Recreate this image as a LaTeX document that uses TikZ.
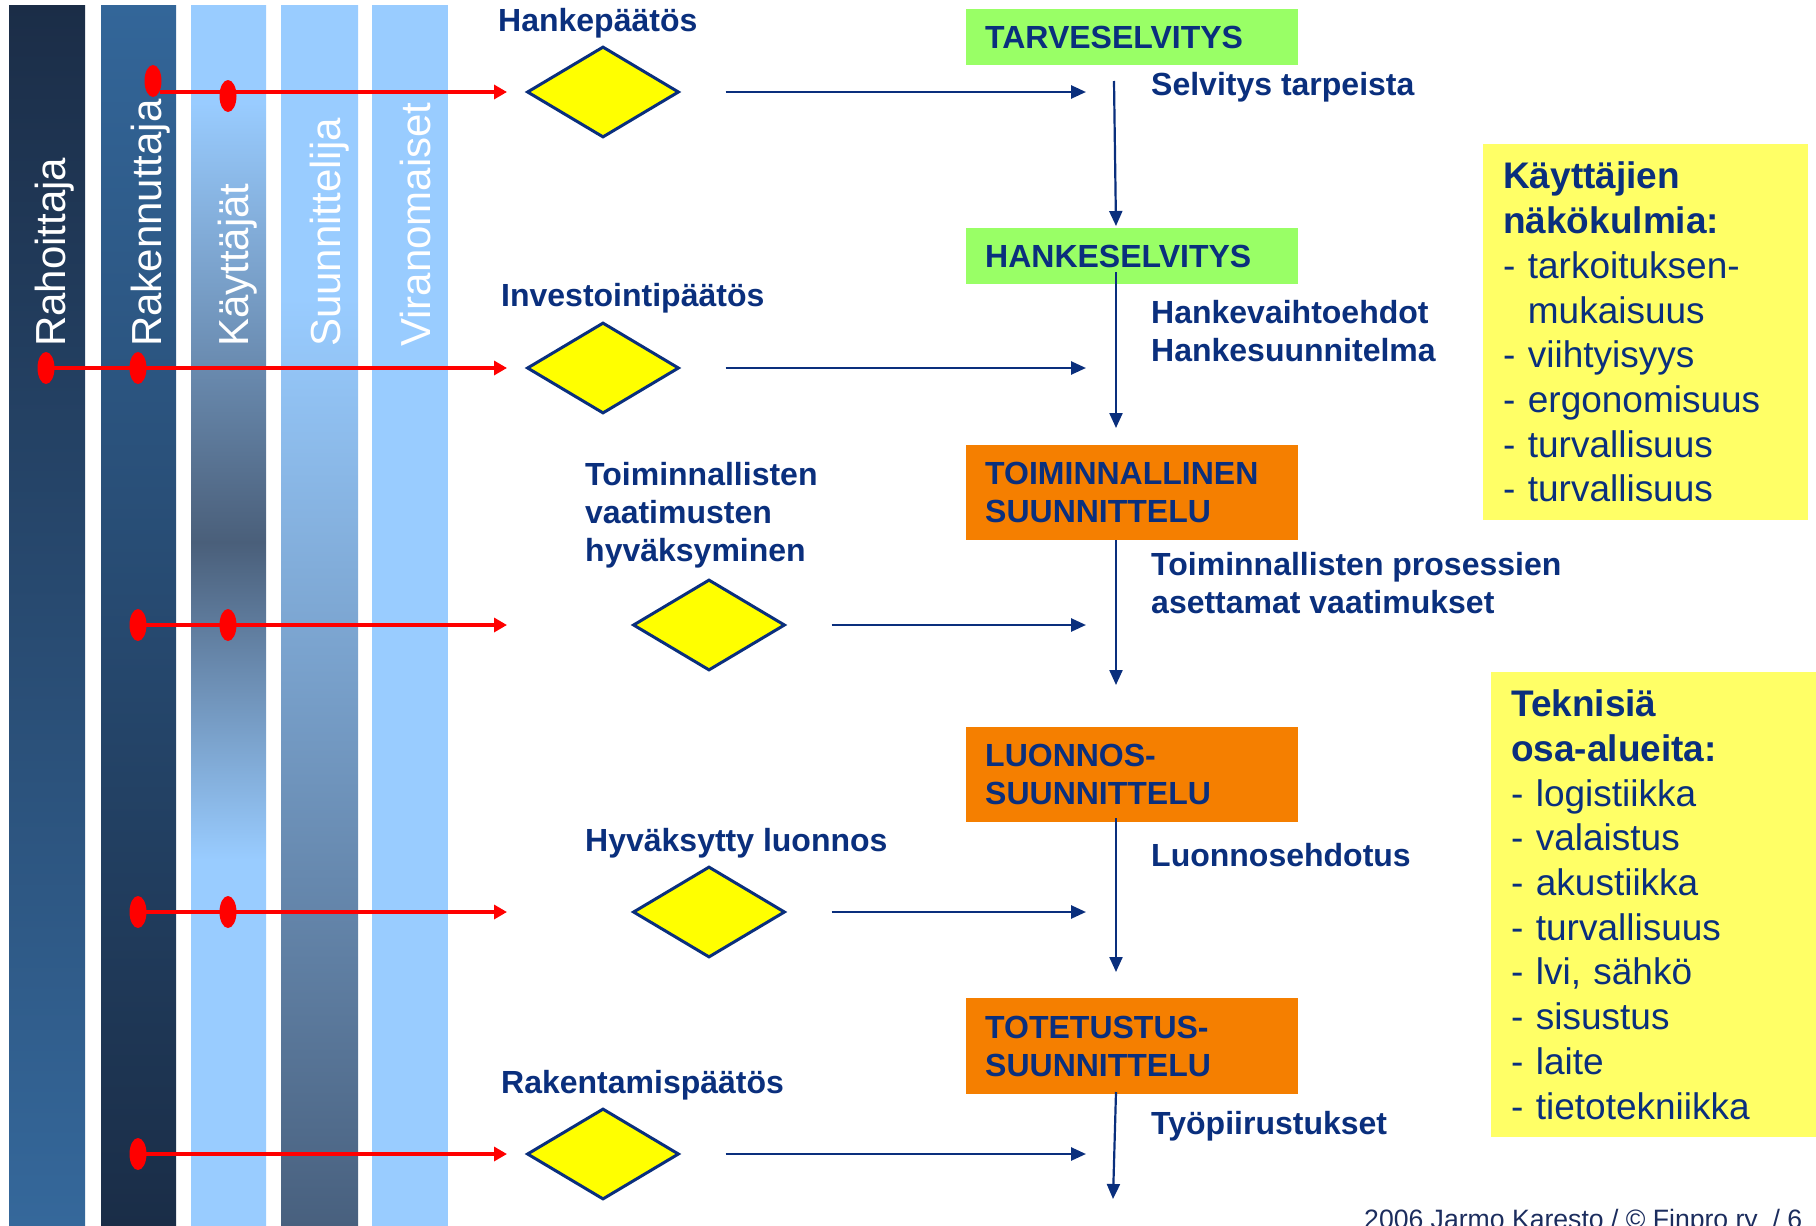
\documentclass[tikz,border=0pt]{standalone}
\usepackage{fontspec}
\setmainfont{Liberation Sans}
\usetikzlibrary{shapes.geometric,arrows.meta}
\definecolor{navy}{HTML}{0A2F7D}
\definecolor{footc}{HTML}{1C2D5E}
\definecolor{lightb}{HTML}{99CCFF}
\definecolor{darkb}{HTML}{4A5F7A}
\definecolor{darkbb}{HTML}{48607E}
\definecolor{bartopA}{HTML}{1B2D47}
\definecolor{barbotA}{HTML}{35689B}
\definecolor{bartopB}{HTML}{336699}
\definecolor{barbotB}{HTML}{1A2D47}
\definecolor{phgreen}{HTML}{99FF66}
\definecolor{phorange}{HTML}{F57F00}
\definecolor{notey}{HTML}{FFFF66}
\definecolor{diay}{HTML}{FFFF00}
\pgfdeclareverticalshading{barthree}{100bp}{color(0bp)=(lightb); color(25bp)=(lightb); color(40bp)=(lightb); color(53bp)=(darkb); color(71bp)=(lightb); color(100bp)=(lightb)}
\pgfdeclareverticalshading{barfour}{100bp}{color(0bp)=(darkbb); color(25bp)=(darkbb); color(63bp)=(lightb); color(100bp)=(lightb)}
\tikzset{
  bartext/.style={rotate=90, anchor=base west, inner sep=0, text=white, font=\fontsize{42}{50}\selectfont},
  reddot/.style={ellipse, fill=red, draw=none, minimum width=17, minimum height=32, inner sep=0},
  redarrow/.style={draw=red, line width=3.5pt, -{Triangle[length=13pt,width=14pt]}},
  bluearrow/.style={draw=navy, line width=2.6pt, -{Triangle[length=15pt,width=13pt]}},
  vblue/.style={draw=navy, line width=2.2pt, -{Triangle[length=15pt,width=13pt]}},
  gate/.style={diamond, draw=navy, line width=3pt, fill=diay, minimum width=152, minimum height=91, inner sep=0},
  lbl/.style={inner sep=0, text=navy, align=left, font=\fontsize{32}{38}\selectfont\bfseries},
  phase/.style={rectangle, anchor=north west, minimum width=332, text width=294, inner xsep=19, inner ysep=0, align=left, text=navy, font=\fontsize{32}{38}\selectfont\bfseries},
  note/.style={rectangle, anchor=north west, fill=notey, minimum width=325, text width=285, inner xsep=20, inner ysep=0, align=left, text=navy, font=\fontsize{37}{44.7}\selectfont}
}
\begin{document}
\begin{tikzpicture}[x=1pt,y=-1pt]
\useasboundingbox (0,0) rectangle (1816,1226);
\fill[white] (0,0) rectangle (1816,1226);
% bars
\shade[top color=bartopA, bottom color=barbotA] (9,5) rectangle (85,1226);
\shade[top color=bartopB, bottom color=barbotB] (101,5) rectangle (176,1226);
\shade[shading=barthree] (191,5) rectangle (266,1226);
\shade[shading=barfour] (281,5) rectangle (358,1226);
\fill[lightb] (372,5) rectangle (448,1226);
\node[bartext] (tRah) at (65,347) {Rahoittaja};
\node[bartext] (tRak) at (161,347) {Rakennuttaja};
\node[bartext] (tKay) at (248,347) {Käyttäjät};
\node[bartext] (tSuu) at (340,347) {Suunnittelija};
\node[bartext] (tVir) at (430,347) {Viranomaiset};
% red decision lines
\coordinate (r1s) at (160,92);
\coordinate (r1e) at (507,92);
\coordinate (r2e) at (507,368);
\coordinate (r3e) at (507,625);
\coordinate (r4e) at (507,912);
\coordinate (r5e) at (507,1154);
\node[reddot] (d11) at (153,81) {};
\node[reddot] (d12) at (228,96) {};
\node[reddot] (d21) at (46,368) {};
\node[reddot] (d22) at (138,368) {};
\node[reddot] (d31) at (138,625) {};
\node[reddot] (d32) at (228,625) {};
\node[reddot] (d41) at (138,912) {};
\node[reddot] (d42) at (228,912) {};
\node[reddot] (d51) at (138,1154) {};
\draw[redarrow] (r1s) -- (r1e);
\draw[redarrow] (d21.center) -- (r2e);
\draw[redarrow] (d31.center) -- (r3e);
\draw[redarrow] (d41.center) -- (r4e);
\draw[redarrow] (d51.center) -- (r5e);
% decision diamonds
\node[gate] (g1) at (603,92) {};
\node[gate] (g2) at (603,368) {};
\node[gate] (g3) at (709,625) {};
\node[gate] (g4) at (709,912) {};
\node[gate] (g5) at (603,1154) {};
\node[lbl, anchor=base west] (l1) at (498,31) {Hankepäätös};
\node[lbl, anchor=base west] (l2) at (501,306) {Investointipäätös};
\node[lbl, anchor=north west] (l3) at (585,462) {Toiminnallisten\\vaatimusten\\hyväksyminen};
\node[lbl, anchor=base west] (l4) at (585,851) {Hyväksytty luonnos};
\node[lbl, anchor=base west] (l5) at (501,1093) {Rakentamispäätös};
% blue horizontal arrows
\coordinate (h1) at (1086,92);
\coordinate (h2) at (1086,368);
\coordinate (h3) at (1086,625);
\coordinate (h4) at (1086,912);
\coordinate (h5) at (1086,1154);
\draw[bluearrow] ([xshift=45pt]g1.east) -- (h1);
\draw[bluearrow] ([xshift=45pt]g2.east) -- (h2);
\draw[bluearrow] ([xshift=45pt]g3.east) -- (h3);
\draw[bluearrow] ([xshift=45pt]g4.east) -- (h4);
\draw[bluearrow] ([xshift=45pt]g5.east) -- (h5);
% phase boxes
\node[phase, fill=phgreen, minimum height=56] (tarve) at (966,9) {TARVESELVITYS};
\node[phase, fill=phgreen, minimum height=56] (hanke) at (966,228) {HANKESELVITYS};
\node[phase, fill=phorange, minimum height=95] (toim) at (966,445) {TOIMINNALLINEN\\SUUNNITTELU};
\node[phase, fill=phorange, minimum height=95] (luon) at (966,727) {LUONNOS-\\SUUNNITTELU};
\node[phase, fill=phorange, minimum height=96] (tote) at (966,998) {TOTETUSTUS-\\SUUNNITTELU};
% vertical arrows
\coordinate (a1s) at (1114,81);
\coordinate (a1e) at (1116,226);
\coordinate (a2s) at (1116,272);
\coordinate (a2e) at (1116,428);
\coordinate (a3s) at (1116,540);
\coordinate (a3e) at (1116,685);
\coordinate (a4s) at (1116,818);
\coordinate (a4e) at (1116,972);
\coordinate (a5s) at (1116,1092);
\coordinate (a5e) at (1113,1199);
\draw[vblue] (a1s) -- (a1e);
\draw[vblue] (a2s) -- (a2e);
\draw[vblue] (a3s) -- (a3e);
\draw[vblue] (a4s) -- (a4e);
\draw[vblue] (a5s) -- (a5e);
% output labels
\node[lbl, anchor=base west] (o1) at (1151,95) {Selvitys tarpeista};
\node[lbl, anchor=north west] (o2) at (1151,300) {Hankevaihtoehdot\\Hankesuunnitelma};
\node[lbl, anchor=north west] (o3) at (1151,552) {Toiminnallisten prosessien\\asettamat vaatimukset};
\node[lbl, anchor=base west] (o4) at (1151,866) {Luonnosehdotus};
\node[lbl, anchor=base west] (o5) at (1151,1134) {Työpiirustukset};
% note boxes
\node[note, minimum height=376] (kay) at (1483,144) {\textbf{Käyttäjien}\\\textbf{näkökulmia:}\\- tarkoituksen-\\\phantom{- }mukaisuus\\- viihtyisyys\\- ergonomisuus\\- turvallisuus\\- turvallisuus};
\node[note, minimum height=465, inner xsep=19] (tek) at (1491,672) {\textbf{Teknisiä}\\\textbf{osa-alueita:}\\- logistiikka\\- valaistus\\- akustiikka\\- turvallisuus\\- lvi, sähkö\\- sisustus\\- laite\\- tietotekniikka};
% footer
\node[anchor=base west, inner sep=0, text=footc, font=\fontsize{26.6}{30}\selectfont] (foot) at (1364,1228) {2006 Jarmo Karesto / © Finpro ry~ / 6};
\end{tikzpicture}
\end{document}
